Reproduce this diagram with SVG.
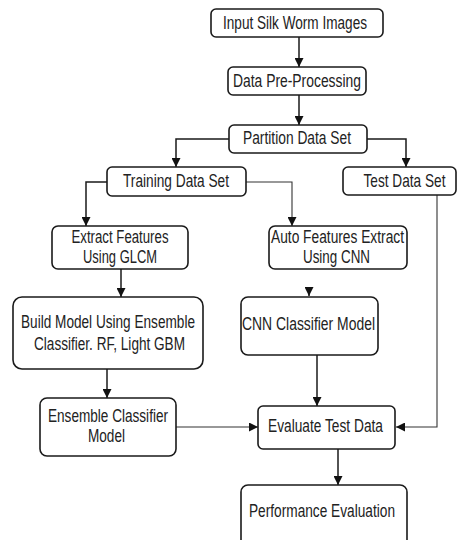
<svg xmlns="http://www.w3.org/2000/svg" width="457" height="540" viewBox="0 0 457 540">
<style>
.box{fill:#fff;stroke:#1a1a1a;stroke-width:1.6}
.t{font-family:"Liberation Sans",Arial,sans-serif;font-size:17.5px;fill:#222;text-anchor:middle}
.c{fill:none;stroke:#1a1a1a;stroke-width:1.5}
.thin{fill:none;stroke:#333;stroke-width:1.1}
</style>
<defs>
<marker id="ah" viewBox="0 0 10 10" refX="10" refY="5" markerWidth="9" markerHeight="9" markerUnits="userSpaceOnUse" orient="auto">
<path d="M0,0 L10,5 L0,10 Z" fill="#111"/>
</marker>
</defs>
<rect width="457" height="540" fill="#fff"/>
<g id="connectors">
<path class="c" d="M299,37 V67" marker-end="url(#ah)"/>
<path class="c" d="M299,95 V125" marker-end="url(#ah)"/>
<path class="c" d="M229,139 H176 V167" marker-end="url(#ah)"/>
<path class="c" d="M367,139 H406 V167" marker-end="url(#ah)"/>
<path class="c" d="M107,182 H86 V226" marker-end="url(#ah)"/>
<path class="thin" d="M246,182 H292 V226" marker-end="url(#ah)"/>
<path class="c" d="M121,269 V297" marker-end="url(#ah)"/>
<path class="c" d="M309,287 V296" marker-end="url(#ah)"/>
<path class="c" d="M107,369 V398" marker-end="url(#ah)"/>
<path class="c" d="M317,355 V406" marker-end="url(#ah)"/>
<path class="thin" d="M176,427 H258" marker-end="url(#ah)"/>
<path class="thin" d="M437,195 V427 H396" marker-end="url(#ah)"/>
<path class="c" d="M338,449 V485" marker-end="url(#ah)"/>
</g>
<g id="input">
<rect class="box" x="211" y="9" width="172" height="28" rx="5"/>
<text class="t" x="295" y="29" textLength="144" lengthAdjust="spacingAndGlyphs">Input Silk Worm Images</text>
</g>
<g id="preprocess">
<rect class="box" x="228" y="67" width="138" height="28" rx="5"/>
<text class="t" x="297" y="87" textLength="128" lengthAdjust="spacingAndGlyphs">Data Pre-Processing</text>
</g>
<g id="partition">
<rect class="box" x="229" y="125" width="138" height="28" rx="5"/>
<text class="t" x="297" y="144" textLength="108" lengthAdjust="spacingAndGlyphs">Partition Data Set</text>
</g>
<g id="training">
<rect class="box" x="107" y="167" width="139" height="29" rx="5"/>
<text class="t" x="176" y="187" textLength="106" lengthAdjust="spacingAndGlyphs">Training Data Set</text>
</g>
<g id="test">
<rect class="box" x="343" y="167" width="113" height="28" rx="5"/>
<text class="t" transform="translate(404.5,187) scale(0.78,1)" x="0" y="0">Test Data Set</text>
</g>
<g id="extract">
<rect class="box" x="52" y="226" width="136" height="43" rx="6"/>
<text class="t" x="120" y="243" textLength="97" lengthAdjust="spacingAndGlyphs">Extract Features</text>
<text class="t" x="120" y="263" textLength="74" lengthAdjust="spacingAndGlyphs">Using GLCM</text>
</g>
<g id="auto">
<rect class="box" x="269" y="226" width="138" height="43" rx="6"/>
<text class="t" x="337.5" y="243" textLength="133" lengthAdjust="spacingAndGlyphs">Auto Features Extract</text>
<text class="t" x="336.5" y="263" textLength="67" lengthAdjust="spacingAndGlyphs">Using CNN</text>
</g>
<g id="build">
<rect class="box" x="13" y="297" width="190" height="72" rx="9"/>
<text class="t" x="108" y="328" textLength="174" lengthAdjust="spacingAndGlyphs">Build Model Using Ensemble</text>
<text class="t" x="109.5" y="350" textLength="151" lengthAdjust="spacingAndGlyphs">Classifier. RF, Light GBM</text>
</g>
<g id="cnn">
<rect class="box" x="241" y="297" width="137" height="58" rx="7"/>
<text class="t" x="308.5" y="330" textLength="133" lengthAdjust="spacingAndGlyphs">CNN Classifier Model</text>
</g>
<g id="ensemble">
<rect class="box" x="40" y="398" width="136" height="58" rx="7"/>
<text class="t" x="108" y="422" textLength="120" lengthAdjust="spacingAndGlyphs">Ensemble Classifier</text>
<text class="t" x="106.5" y="442" textLength="37" lengthAdjust="spacingAndGlyphs">Model</text>
</g>
<g id="evaluate">
<rect class="box" x="258" y="406" width="137" height="43" rx="5"/>
<text class="t" x="325.5" y="432" textLength="115" lengthAdjust="spacingAndGlyphs">Evaluate Test Data</text>
</g>
<g id="performance">
<rect class="box" x="241" y="485" width="166" height="62" rx="7"/>
<text class="t" x="322" y="517" textLength="146" lengthAdjust="spacingAndGlyphs">Performance Evaluation</text>
</g>
</svg>
